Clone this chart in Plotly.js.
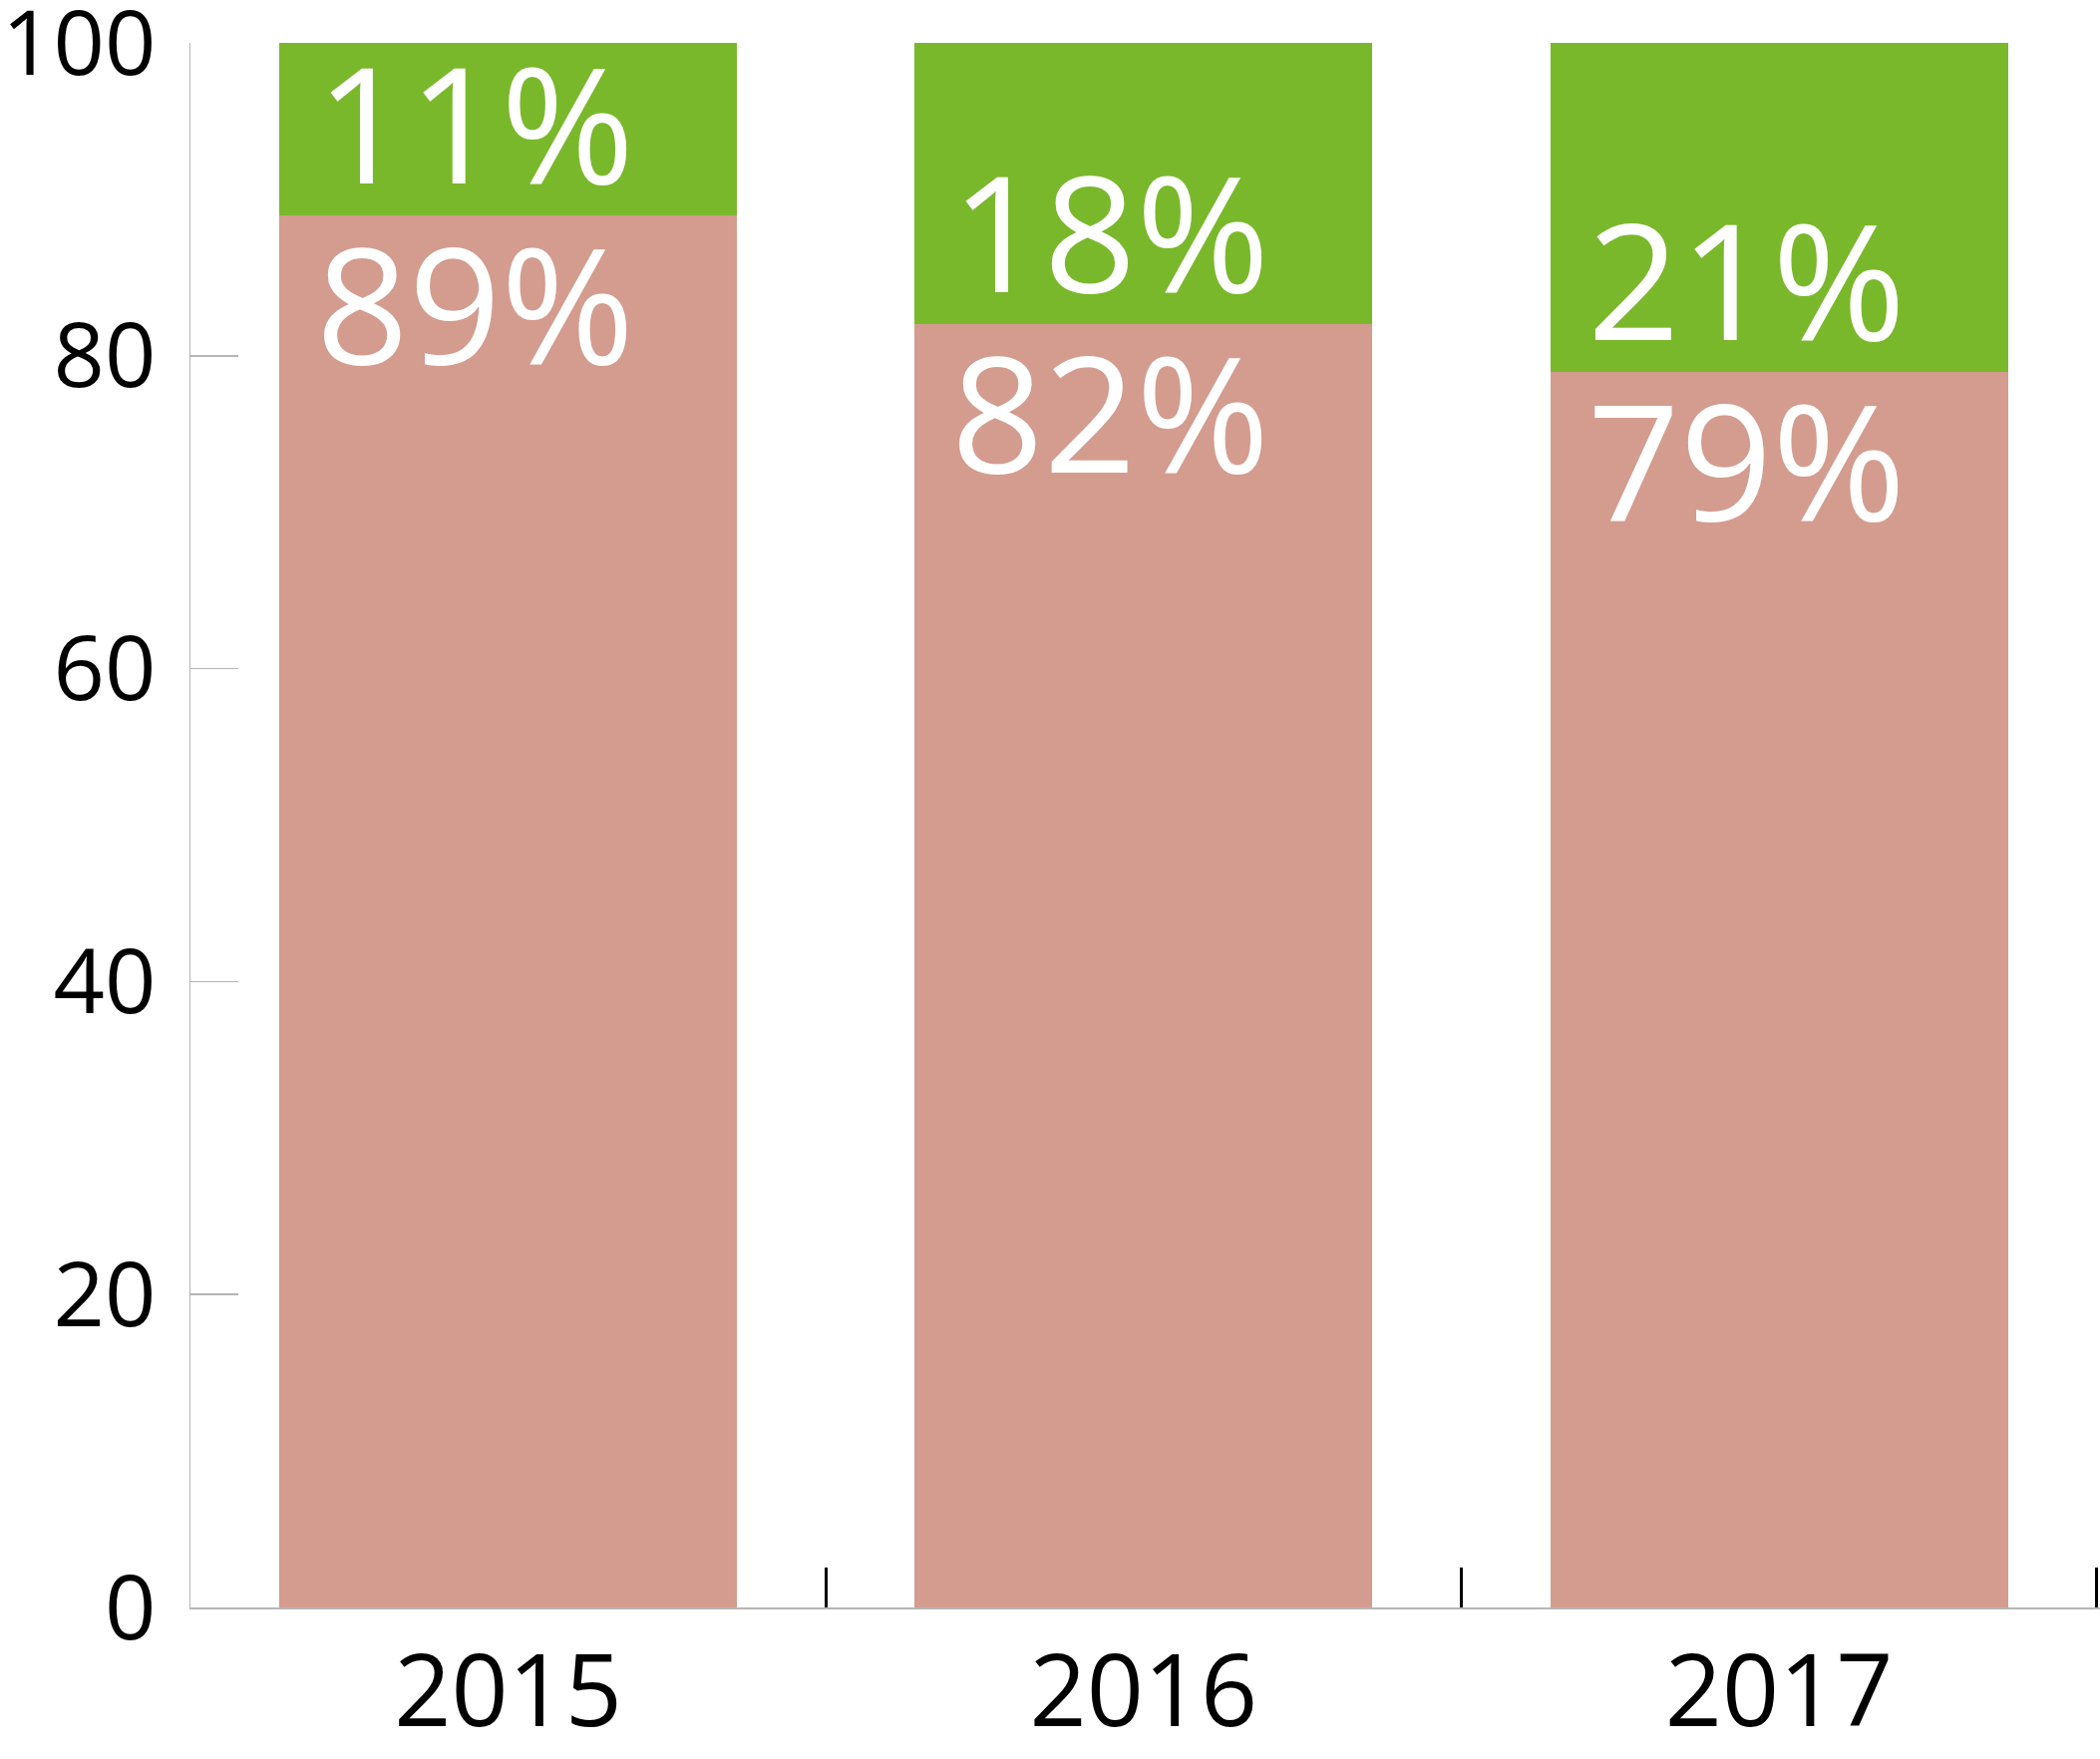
<!DOCTYPE html>
<html>
<head>
<meta charset="utf-8">
<script src="https://cdn.plot.ly/plotly-3.0.1.min.js"></script>
<style>
html,body{margin:0;padding:0;background:#fff;}
#chart{width:2106px;height:1764px;}
</style>
</head>
<body>
<div id="chart"></div>
<script>
const years = ["2015", "2016", "2017"];
const lowerShare = [89, 82, 79];
const upperShare = [11, 18, 21];
const yTickVals = [0, 20, 40, 60, 80, 100];

const lowerColor = "#D39C8F";
const upperColor = "#7AB82B";
const FONT = "'Open Sans', 'Noto Sans', sans-serif";
const BAR_W = 0.72;

const traces = [
  {type: "bar", x: years, y: lowerShare, marker: {color: lowerColor}, width: BAR_W, hoverinfo: "none"},
  {type: "bar", x: years, y: upperShare, marker: {color: upperColor}, width: BAR_W, hoverinfo: "none"}
];

const annotations = [];
years.forEach((yr, i) => {
  annotations.push({
    xref: "x", yref: "y", x: i - BAR_W / 2, y: lowerShare[i],
    xanchor: "left", yanchor: "bottom", xshift: 35, yshift: -17,
    text: upperShare[i] + "%", showarrow: false,
    font: {family: FONT, size: 162, color: "#ffffff"}
  });
  annotations.push({
    xref: "x", yref: "y", x: i - BAR_W / 2, y: lowerShare[i],
    xanchor: "left", yanchor: "top", xshift: 35, yshift: 26,
    text: lowerShare[i] + "%", showarrow: false,
    font: {family: FONT, size: 162, color: "#ffffff"}
  });
});

const layout = {
  width: 2106, height: 1764,
  margin: {l: 191, r: 0, t: 43, b: 152},
  paper_bgcolor: "#ffffff", plot_bgcolor: "#ffffff",
  barmode: "stack",
  showlegend: false,
  font: {family: FONT, color: "#000000"},
  xaxis: {
    type: "category", range: [-0.5, 2.505],
    showline: true, linecolor: "#b5b5b5", linewidth: 1.5,
    showgrid: false, zeroline: false,
    ticks: "inside", tickson: "boundaries", ticklen: 40, tickwidth: 3, tickcolor: "#000000",
    tickfont: {family: FONT, size: 100, color: "#000000"},
    ticklabelstandoff: -3
  },
  yaxis: {
    range: [0, 100.001], tickvals: yTickVals,
    showline: true, linecolor: "#b5b5b5", linewidth: 1.5,
    showgrid: false, zeroline: false,
    ticks: "inside", ticklen: 48, tickwidth: 1.5, tickcolor: "#b5b5b5",
    tickfont: {family: FONT, size: 90, color: "#000000"},
    ticklabelstandoff: 15,
    ticklabeloverflow: "allow"
  },
  annotations: annotations
};

Plotly.newPlot("chart", traces, layout, {displayModeBar: false, staticPlot: true});
</script>
</body>
</html>
